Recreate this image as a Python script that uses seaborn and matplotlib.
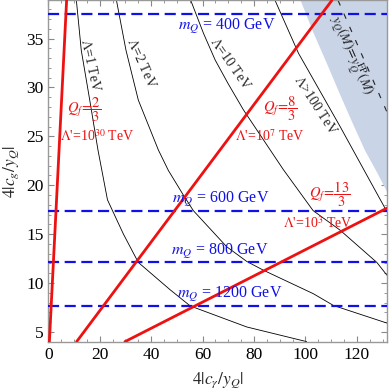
import numpy as np
import pandas as pd
import matplotlib
matplotlib.use('Agg')
import matplotlib.pyplot as plt
import seaborn as sns
from matplotlib.ticker import MultipleLocator

# red Q_f lines (two end points each)
q23_x = [0.4, 7.1]
q23_y = [4.0, 38.9]
q83_x = [11.0, 110.3]
q83_y = [4.0, 38.9]
q133_x = [29.8, 131.7]
q133_y = [4.0, 17.65]

# black Lambda contours
lam1_x = [10.9, 12.8, 16.1, 19.3, 23.0, 29.2, 35.0, 47.4, 55.2, 77.2, 100.5]
lam1_y = [38.9, 33.8, 28.7, 23.6, 18.5, 15.0, 12.1, 9.3, 7.65, 5.5, 4.0]
lam2_x = [26.5, 30.2, 35.0, 42.8, 46.7, 52.5, 56.4, 69.4, 77.2, 83.7, 103.1, 110.9, 131.7]
lam2_y = [38.9, 33.8, 28.7, 23.6, 21.5, 19.0, 17.4, 13.7, 12.2, 11.3, 8.9, 7.7, 5.9]
lam10_x = [55.4, 60.4, 64.9, 69.9, 75.9, 91.4, 103.0, 113.5, 127.8, 131.7]
lam10_y = [38.9, 35.5, 32.8, 30.4, 27.7, 21.6, 17.4, 15.4, 12.1, 10.8]
lam100_x = [88.2, 97.3, 113.5, 125.0, 131.7]
lam100_y = [38.9, 33.5, 26.0, 20.5, 17.3]

# shaded region boundary and fixed point dashed line
shade_x = [98.0, 103.0, 108.0, 113.0, 118.0, 123.0, 128.0, 131.7]
shade_y = [38.9, 35.6, 32.6, 29.5, 26.5, 23.6, 21.2, 19.3]
fp_x = [112.7, 131.7]
fp_y = [38.9, 27.5]

# m_Q dashed lines
mq_vals = [37.5, 17.4, 12.1, 7.67]
mq_labels = ['400', '600', '800', '1200']
mq_label_x = [69.2, 67.0, 66.7, 70.7]

sns.set_theme(style='ticks')
plt.rcParams['font.family'] = ['Liberation Serif', 'DejaVu Serif']
plt.rcParams['mathtext.fontset'] = 'stix'

fig = plt.figure(figsize=(3.9, 3.9), dpi=100)
ax = fig.add_axes([0.124, 0.124, 0.868, 0.875])

ax.fill_between(shade_x + [140], shade_y + [14.0], 40, color='#c9d4e7', lw=0, zorder=1)

for xs, ys in [(lam1_x, lam1_y), (lam2_x, lam2_y), (lam10_x, lam10_y), (lam100_x, lam100_y)]:
    sns.lineplot(x=xs, y=ys, ax=ax, color='black', lw=0.6, sort=False, zorder=2)

fp = sns.lineplot(x=fp_x, y=fp_y, ax=ax, color='#222222', lw=0.8, sort=False, zorder=2)
fp.lines[-1].set_dashes([5, 8])

blue = '#1010e8'
for v, lab, lx in zip(mq_vals, mq_labels, mq_label_x):
    ax.axhline(v, color=blue, lw=1.6, dashes=(5, 2.5), zorder=3)
    if lab == '400':
        ax.text(lx, v - 0.25, r'$m_Q$ = ' + lab + ' GeV', color=blue, fontsize=11.5,
                ha='center', va='top', zorder=4)
    else:
        ax.text(lx, v + 0.15, r'$m_Q$ = ' + lab + ' GeV', color=blue, fontsize=11.5,
                ha='center', va='bottom', zorder=4)

red = '#ee1111'
for xs, ys in [(q23_x, q23_y), (q83_x, q83_y), (q133_x, q133_y)]:
    sns.lineplot(x=xs, y=ys, ax=ax, color=red, lw=2.0, sort=False, zorder=3)

ax.text(13.8, 27.7, r'$Q_f\!=\!\dfrac{2}{3}$', color=red, fontsize=10.5, ha='center', va='center')
ax.text(18.9, 25.0, r"$\Lambda$'=10$^{30}$ TeV", color=red, fontsize=10, ha='center', va='center')
ax.text(90.0, 27.8, r'$Q_f\!=\!\dfrac{8}{3}$', color=red, fontsize=10.5, ha='center', va='center')
ax.text(86.3, 25.0, r"$\Lambda$'=10$^{7}$ TeV", color=red, fontsize=10, ha='center', va='center')
ax.text(109.3, 19.1, r'$Q_f\!=\!\dfrac{13}{3}$', color=red, fontsize=10.5, ha='center', va='center')
ax.text(104.7, 16.1, r"$\Lambda$'=10$^{3}$ TeV", color=red, fontsize=10, ha='center', va='center')

ax.text(16.4, 32.3, r'$\Lambda$=1 TeV', fontsize=10, rotation=-78, ha='center', va='center')
ax.text(36.3, 32.5, r'$\Lambda$=2 TeV', fontsize=10, rotation=-66, ha='center', va='center')
ax.text(70.8, 32.4, r'$\Lambda$=10 TeV', fontsize=10, rotation=-55, ha='center', va='center')
ax.text(104.0, 28.2, r'$\Lambda$>100 TeV', fontsize=10, rotation=-57, ha='center', va='center')
ax.text(117.5, 33.2, r'$y_Q(M)\!=\!y_Q^{\rm FP}(M)$', fontsize=10, rotation=-66,
        ha='center', va='center')

ax.set_xlim(0, 131.7)
ax.set_ylim(4, 38.9)
ax.xaxis.set_major_locator(MultipleLocator(20))
ax.xaxis.set_minor_locator(MultipleLocator(5))
ax.yaxis.set_major_locator(MultipleLocator(5))
ax.yaxis.set_minor_locator(MultipleLocator(1))
ax.tick_params(which='both', direction='in', top=True, right=True, color='#888888',
               labelsize=12.5, labelcolor='black')
ax.tick_params(which='major', length=4, width=0.8)
ax.tick_params(which='minor', length=2, width=0.6)
for s in ax.spines.values():
    s.set_color('#999999')
    s.set_linewidth(1.0)

ax.set_xlabel(r'$4|c_\gamma/y_Q|$', fontsize=12.5, labelpad=6)
ax.set_ylabel(r'$4|c_g/y_Q|$', fontsize=12.5, labelpad=4)

fig.savefig('out.png', dpi=100)
